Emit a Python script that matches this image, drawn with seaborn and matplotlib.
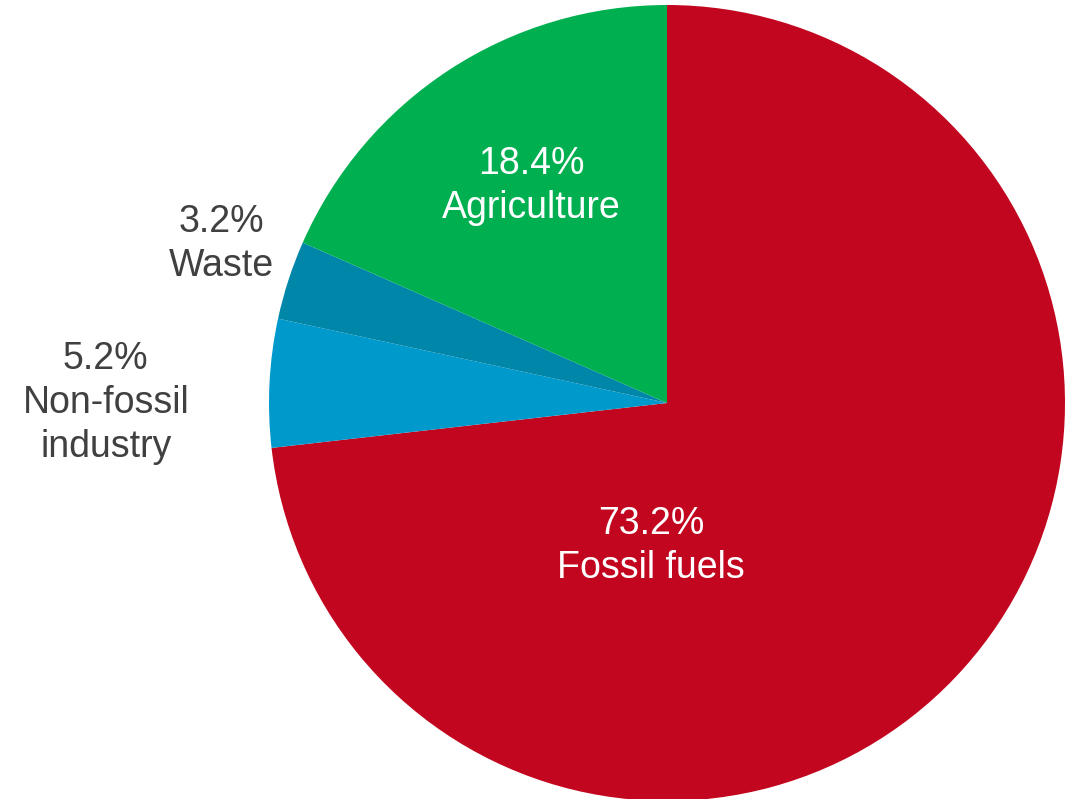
import matplotlib
matplotlib.use('Agg')
import matplotlib.pyplot as plt
import seaborn as sns

# Data (clockwise from 12 o'clock)
sectors = ['Fossil fuels', 'Non-fossil\nindustry', 'Waste', 'Agriculture']
shares = [73.2, 5.2, 3.2, 18.4]
colors = ['#C3061F', '#0099CC', '#0086A8', '#00B050']
text_colors = ['white', '#404040', '#404040', 'white']
# label positions (data units, pie radius = 1)
label_pos = [(-0.04, -0.36), (-1.41, 0.0), (-1.12, 0.40), (-0.34, 0.545)]

sns.set_style('white')
plt.rcParams['font.family'] = ['Liberation Sans', 'DejaVu Sans']

fig = plt.figure(figsize=(10.77, 7.99), dpi=100)
ax = fig.add_axes([0, 0, 1, 1])

ax.pie(shares, colors=colors, startangle=90, counterclock=False,
       radius=1.0, wedgeprops=dict(linewidth=0))

for name, val, (x, y), c in zip(sectors, shares, label_pos, text_colors):
    ax.text(x, y, f'{val:.1f}%\n{name}', ha='center', va='center',
            fontsize=27, color=c, linespacing=1.3)

scale = 398.0
ax.set_xlim(-667 / scale, (1077 - 667) / scale)
ax.set_ylim(-(799 - 403) / scale, 403 / scale)
ax.set_aspect('auto')
ax.axis('off')

fig.savefig('out.png', dpi=100)
